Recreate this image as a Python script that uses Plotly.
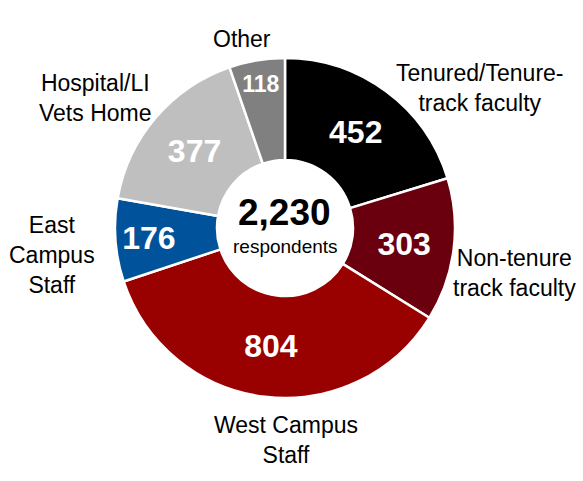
import plotly.graph_objects as go

# respondents by group, clockwise from 12 o'clock
groups = ["Tenured/Tenure-<br>track faculty", "Non-tenure<br>track faculty",
          "West Campus<br>Staff", "East<br>Campus<br>Staff",
          "Hospital/LI<br>Vets Home", "Other"]
counts = [452, 303, 804, 176, 377, 118]
colors = ["#000000", "#6a000d", "#990000", "#00539b", "#bfbfbf", "#808080"]

W, H = 583, 481
FONT = "Liberation Sans, Arial, sans-serif"

# pie centre and radius in px
cx, cy, r = 285, 228, 170

fig = go.Figure()
fig.add_trace(go.Pie(
    values=counts,
    labels=groups,
    sort=False,
    direction="clockwise",
    rotation=0,
    hole=0.40,
    marker=dict(colors=colors, line=dict(color="white", width=2.5)),
    texttemplate="%{value}",
    textposition="inside",
    insidetextorientation="horizontal",
    textfont=dict(family=FONT, size=[32, 32, 32, 32, 32, 23], color="white", weight="bold"),
    hoverinfo="skip",
    showlegend=False,
    domain=dict(x=[(cx - r) / W, (cx + r) / W],
                y=[(H - cy - r) / H, (H - cy + r) / H]),
))

# outside category labels (pixel centres)
label_pos = [(480, 88), (514, 273), (286, 440), (52, 255), (95, 98), (242, 39)]
for txt, (px, py) in zip(groups, label_pos):
    fig.add_annotation(
        x=px / W, y=1 - py / H, xref="paper", yref="paper",
        xanchor="center", yanchor="middle",
        text=txt, showarrow=False, align="center",
        font=dict(family=FONT, size=23, color="black"),
    )

# centre total
total = sum(counts)
fig.add_annotation(x=284 / W, y=1 - 212 / H, xref="paper", yref="paper",
                   xanchor="center", yanchor="middle",
                   text=f"{total:,}", showarrow=False,
                   font=dict(family=FONT, size=37, color="black", weight="bold"))
fig.add_annotation(x=285 / W, y=1 - 246 / H, xref="paper", yref="paper",
                   xanchor="center", yanchor="middle",
                   text="respondents", showarrow=False,
                   font=dict(family=FONT, size=19, color="black"))

fig.update_layout(
    width=W, height=H,
    margin=dict(l=0, r=0, t=0, b=0),
    paper_bgcolor="white",
    plot_bgcolor="white",
)
# drop the browser's default 8px body margin so the figure sits at 0,0
fig.write_html("out.html", config={"displayModeBar": False},
               post_script="document.body.style.margin='0';")
